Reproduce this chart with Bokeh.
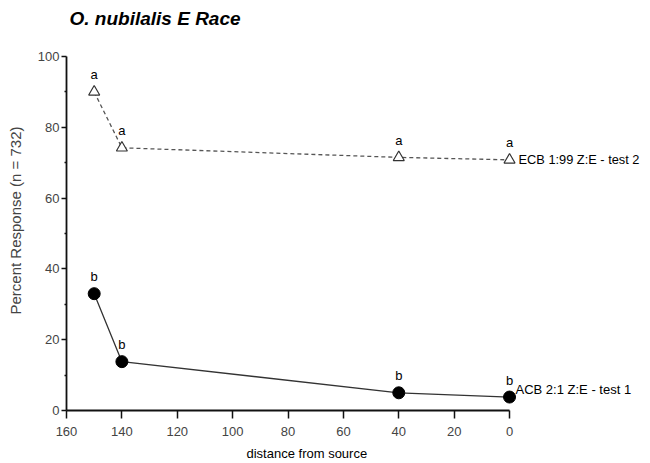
from bokeh.plotting import figure
from bokeh.models import Range1d, FixedTicker, Title
from bokeh.core.properties import value
from bokeh.embed import file_html
from bokeh.resources import INLINE

# data
distance = [150, 140, 40, 0]
ecb_resp = [90.0, 74.2, 71.5, 70.8]
acb_resp = [33.0, 13.8, 5.0, 3.8]
ecb_letters = ["a", "a", "a", "a"]
acb_letters = ["b", "b", "b", "b"]
ecb_name = "ECB 1:99 Z:E - test 2"
acb_name = "ACB 2:1 Z:E - test 1"
x_ticks = [0, 20, 40, 60, 80, 100, 120, 140, 160]
y_ticks = [0, 20, 40, 60, 80, 100]
y_minor = [10, 30, 50, 70, 90]

FONT = "Liberation Sans"

# frame reaches above 100 so the title can sit close to the top edge;
# the y axis line itself is bounded to 0..100
p = figure(frame_width=574, frame_height=380, output_backend="svg", toolbar_location=None,
           x_range=Range1d(160, -47.3), y_range=Range1d(0, 107.34),
           min_border_left=66, min_border_right=2, min_border_top=30, min_border_bottom=40,
           background_fill_color="white", border_fill_color="white")
p.outline_line_color = None
p.grid.visible = False

t = Title(text="O. nubilalis E Race", text_font=FONT, text_font_size="19px",
          text_font_style="bold italic", text_color="black", offset=3, standoff=0,
          vertical_align="top")
p.add_layout(t, "above")

xlab = Title(text="distance from source", text_font=FONT, text_font_size="13px",
             text_font_style="normal", text_color="black", align="left", offset=180,
             standoff=10)
p.add_layout(xlab, "below")

xa = p.xaxis[0]
xa.ticker = FixedTicker(ticks=x_ticks)
xa.bounds = (0, 160)
xa.major_label_text_font = FONT
xa.major_label_text_font_size = "13px"
xa.major_label_standoff = 8
xa.major_tick_out = 8
xa.major_tick_in = 0
xa.minor_tick_out = 0
xa.minor_tick_in = 0
xa.axis_line_width = 1.8
xa.major_tick_line_width = 1.5
xa.axis_line_color = "#111111"
xa.major_tick_line_color = "#111111"

ya = p.yaxis[0]
ya.ticker = FixedTicker(ticks=y_ticks, minor_ticks=y_minor)
ya.bounds = (0, 100)
ya.axis_label = "Percent Response (n = 732)"
ya.axis_label_text_font = FONT
ya.axis_label_text_font_size = "15px"
ya.axis_label_text_font_style = "normal"
ya.axis_label_standoff = 11
ya.major_label_text_font = FONT
ya.major_label_text_font_size = "13px"
ya.major_label_standoff = 2
ya.major_tick_out = 5
ya.major_tick_in = 0
ya.minor_tick_out = 2
ya.minor_tick_in = 0
ya.axis_line_width = 1.8
ya.major_tick_line_width = 1.5
ya.minor_tick_line_width = 1.5
ya.axis_line_color = "#111111"
ya.major_tick_line_color = "#111111"
ya.minor_tick_line_color = "#111111"

# ECB dashed line with open triangles
p.line(distance, ecb_resp, line_color="#555555", line_width=1.3, line_dash="4 3")
p.scatter(distance, ecb_resp, marker="triangle", size=11, fill_color="white",
          line_color="#333333", line_width=1.2)
# ACB solid line with filled circles
p.line(distance, acb_resp, line_color="#333333", line_width=1.3)
p.scatter(distance, acb_resp, marker="circle", size=12, fill_color="black",
          line_color="black")

p.text(distance, ecb_resp, text=ecb_letters, text_font=value(FONT), text_font_size="13px",
       text_align="center", text_baseline="alphabetic", y_offset=-17, text_color="black")
p.text(distance, acb_resp, text=acb_letters, text_font=value(FONT), text_font_size="13px",
       text_align="center", text_baseline="alphabetic", y_offset=-17, text_color="black")

p.text([distance[-1]], [ecb_resp[-1]], text=[ecb_name], text_font=value(FONT),
       text_font_size="12.8px", text_align="left", text_baseline="middle",
       x_offset=9, text_color="black")
p.text([distance[-1]], [acb_resp[-1]], text=[acb_name], text_font=value(FONT),
       text_font_size="13px", text_align="left", text_baseline="middle",
       x_offset=6, y_offset=-8, text_color="black")

open("out.html", "w").write(file_html(p, INLINE))
